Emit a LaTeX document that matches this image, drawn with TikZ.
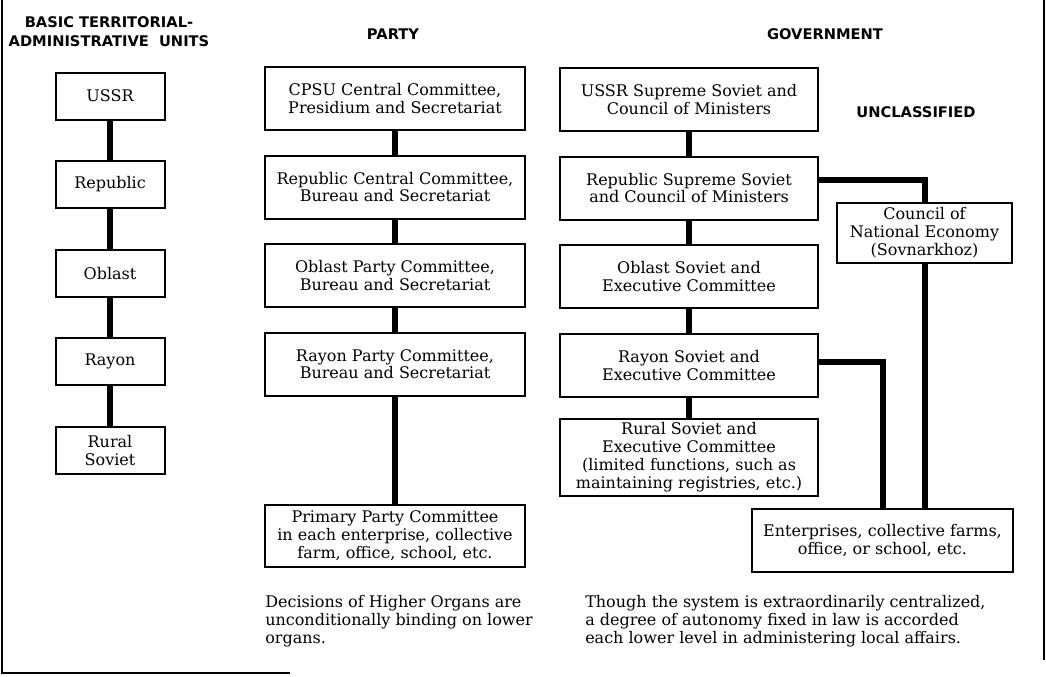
\documentclass[tikz,border=0pt]{standalone}
\usepackage{fontspec}
\setmainfont{DejaVu Serif}
\newfontfamily\headfont{DejaVu Sans}
\usepackage{tikz}
\usetikzlibrary{positioning}
\tikzstyle{unitbox} = [rectangle, minimum width=81.75pt, minimum height=35.25pt, inner sep=2pt, text centered, align=center, draw=black, line width=1.5pt, font=\fontsize{12}{13.4}\selectfont]
\tikzstyle{partybox} = [unitbox, minimum width=195pt, minimum height=47.25pt]
\tikzstyle{govbox} = [unitbox, minimum width=193.5pt, minimum height=47.25pt]
\tikzstyle{heading} = [font=\headfont\bfseries\fontsize{11}{14.25}\selectfont, align=center]
\tikzstyle{note} = [font=\fontsize{12}{13.5}\selectfont, align=left, anchor=north west, inner sep=0pt]
\tikzstyle{link} = [line width=4.5pt]

\begin{document}
\begin{tikzpicture}[x=0.75pt, y=-0.75pt, node distance=66.4pt]

  \useasboundingbox (0,0) rectangle (1046,676);
  % scanned frame
  \draw [line width=1pt] (2,0) -- (2,673) -- (290,673);
  \draw [line width=0.8pt] (1044,0) -- (1044,660);

  % headings
  \node (hunits) [heading] at (109,32) {BASIC TERRITORIAL-\\ADMINISTRATIVE\ \ UNITS};
  \node (hparty) [heading] at (393,34) {PARTY};
  \node (hgov) [heading] at (825,34) {GOVERNMENT};
  \node (hclass) [heading] at (916,112) {UNCLASSIFIED};

  % territorial units
  \node (ussr) [unitbox] at (110,96) {USSR};
  \node (republic) [unitbox, below of=ussr] {Republic};
  \node (oblast) [unitbox, below of=republic] {Oblast};
  \node (rayon) [unitbox, below of=oblast] {Rayon};
  \node (rural) [unitbox, below of=rayon] {Rural\\Soviet};

  % party
  \node (cpsu) [partybox] at (395,98.5) {CPSU Central Committee,\\Presidium and Secretariat};
  \node (repcc) [partybox, below of=cpsu] {Republic Central Committee,\\Bureau and Secretariat};
  \node (oblpc) [partybox, below of=repcc] {Oblast Party Committee,\\Bureau and Secretariat};
  \node (raypc) [partybox, below of=oblpc] {Rayon Party Committee,\\Bureau and Secretariat};
  \node (primary) [partybox, minimum height=46.5pt] at (395,536) {Primary Party Committee\\in each enterprise, collective\\farm, office, school, etc.};

  % government
  \node (ussrss) [govbox] at (689,99.5) {USSR Supreme Soviet and\\Council of Ministers};
  \node (repss) [govbox, below of=ussrss] {Republic Supreme Soviet\\and Council of Ministers};
  \node (oblss) [govbox, below of=repss] {Oblast Soviet and\\Executive Committee};
  \node (rayss) [govbox, below of=oblss] {Rayon Soviet and\\Executive Committee};
  \node (ruralss) [govbox, minimum height=57.75pt, below of=rayss, yshift=-2.7pt] {Rural Soviet and\\Executive Committee\\(limited functions, such as\\maintaining registries, etc.)};
  \node (council) [unitbox, minimum width=131.25pt, minimum height=45pt] at (924.5,233) {Council of\\National Economy\\(Sovnarkhoz)};
  \node (enterp) [unitbox, minimum width=195.75pt, minimum height=47.25pt] at (882.5,540.5) {Enterprises, collective farms,\\office, or school, etc.};

  % notes
  \node (partynote) [note] at (265,595) {Decisions of Higher Organs are\\unconditionally binding on lower\\organs.};
  \node (govnote) [note] at (585,595) {Though the system is extraordinarily centralized,\\a degree of autonomy fixed in law is accorded\\each lower level in administering local affairs.};

  % links
  \draw [link] (ussr) -- (republic);
  \draw [link] (republic) -- (oblast);
  \draw [link] (oblast) -- (rayon);
  \draw [link] (rayon) -- (rural);

  \draw [link] (cpsu) -- (repcc);
  \draw [link] (repcc) -- (oblpc);
  \draw [link] (oblpc) -- (raypc);
  \draw [link] (raypc) -- (primary);

  \draw [link] (ussrss) -- (repss);
  \draw [link] (repss) -- (oblss);
  \draw [link] (oblss) -- (rayss);
  \draw [link] (rayss) -- (ruralss);
  \draw [link] ([yshift=6.4pt]repss.east) -| (council.north);
  \draw [link] (council.south) -- (council.south |- enterp.north);
  \draw [link] ([yshift=2.6pt]rayss.east) -| (enterp.north);

\end{tikzpicture}
\end{document}
